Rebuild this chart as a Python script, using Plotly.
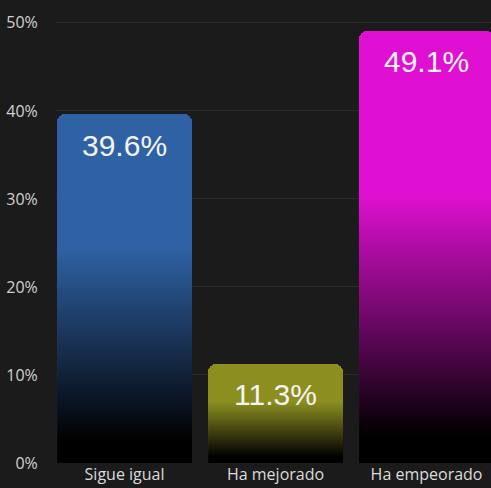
import plotly.graph_objects as go

categories = ["Sigue igual", "Ha mejorado", "Ha empeorado"]
values = [39.6, 11.3, 49.1]
labels = ["39.6%", "11.3%", "49.1%"]
colors = ["#2f62a5", "#8c8f20", "#e010d2"]
y_ticks = [0, 10, 20, 30, 40, 50]
y_tick_text = ["0%", "10%", "20%", "30%", "40%", "50%"]

BG = "#1b1b1b"
W = 0.894
FADE = 0.62

xs = list(range(len(categories)))
fig = go.Figure()
fig.add_trace(go.Bar(
    x=xs, y=values, width=W,
    marker=dict(color=colors, cornerradius=8, line=dict(width=0)),
    hoverinfo="skip", showlegend=False,
))
for i, v in zip(xs, values):
    top = v * FADE
    fig.add_trace(go.Scatter(
        x=[i - W / 2, i + W / 2, i + W / 2, i - W / 2, i - W / 2],
        y=[0, 0, top, top, 0],
        mode="lines", fill="toself", line=dict(width=0),
        fillgradient=dict(type="vertical",
                          colorscale=[[0, "rgba(0,0,0,1)"], [0.1, "rgba(0,0,0,1)"],
                                      [1, "rgba(0,0,0,0)"]]),
        hoverinfo="skip", showlegend=False,
    ))

for i, v, t in zip(xs, values, labels):
    fig.add_annotation(x=i, y=v, text=t, showarrow=False, yshift=-31,
                       font=dict(family="Liberation Sans, Arial", size=30, color="#f4f4f4"))

fig.update_layout(
    width=491, height=488,
    margin=dict(l=56, r=0, t=0, b=25),
    paper_bgcolor=BG, plot_bgcolor=BG,
    font=dict(family="Open Sans, Noto Sans", size=16, color="#d6d6d6"),
    xaxis=dict(range=[-0.454, 2.427], tickvals=xs, ticktext=categories,
               showgrid=False, zeroline=False, showline=False, ticks="",
               ticklabelstandoff=0, automargin=False,
               tickfont=dict(size=16, color="#dcdcdc")),
    yaxis=dict(range=[0, 52.6], tickvals=y_ticks, ticktext=y_tick_text,
               showgrid=True, gridcolor="#2b2b2b", gridwidth=1,
               zeroline=False, showline=False, ticks="outside", ticklen=14,
               automargin=False,
               tickcolor=BG, tickfont=dict(size=16, color="#d0d0d0")),
    bargap=0,
)

fig.write_html("out.html", config={"displayModeBar": False},
               post_script="document.body.style.margin='0';")
